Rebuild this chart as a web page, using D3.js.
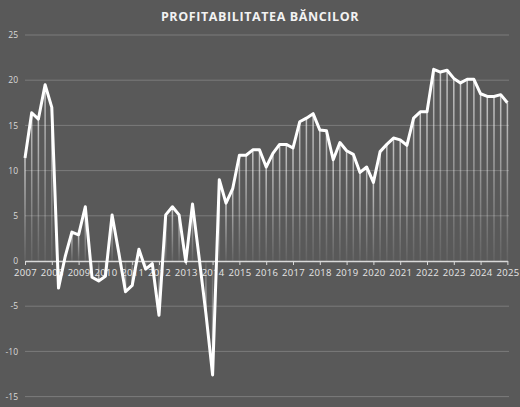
<!DOCTYPE html>
<html>
<head>
<meta charset="utf-8">
<script src="https://cdn.jsdelivr.net/npm/d3@7"></script>
<style>
  body { margin: 0; background: #595959; }
  svg { display: block; font-family: "Open Sans", "DejaVu Sans", sans-serif; }
</style>
</head>
<body>
<script>
// chart title
var title = "PROFITABILITATEA BĂNCILOR";

// quarterly values, 2007 Q1 .. 2025 Q1
var values = [
  11.4, 16.4, 15.7, 19.5, 17.0, -3.0, 0.5, 3.2, 2.9, 6.0, -1.8, -2.2,
  -1.7, 5.1, 0.9, -3.4, -2.7, 1.3, -0.9, -0.3, -6.0, 5.1, 6.0, 5.1,
  -0.1, 6.3, 0.3, -5.8, -12.6, 9.0, 6.4, 8.0, 11.7, 11.7, 12.3, 12.3,
  10.4, 11.9, 12.9, 12.9, 12.5, 15.4, 15.8, 16.3, 14.5, 14.4, 11.2, 13.1,
  12.2, 11.8, 9.8, 10.4, 8.7, 12.1, 12.9, 13.6, 13.4, 12.8, 15.8, 16.5,
  16.5, 21.2, 20.9, 21.1, 20.2, 19.7, 20.1, 20.1, 18.5, 18.2, 18.2, 18.4,
  17.5
];
var startYear = 2007;

// axis ticks
var yearTicks = d3.range(2007, 2026);
var yTicks = [-15, -10, -5, 0, 5, 10, 15, 20, 25];

var W = 520, H = 407;

var svg = d3.select("body").append("svg")
    .attr("width", W)
    .attr("height", H);

var data = values.map(function(v, i) { return { t: startYear + i / 4, v: v }; });

var x = d3.scaleLinear().domain([2007, 2025]).range([25, 507.4]);
var y = d3.scaleLinear().domain([-15, 25]).range([396.6, 35]);

// gradients for the drop lines
var defs = svg.append("defs");
var gUp = defs.append("linearGradient").attr("id", "dropUp")
    .attr("x1", 0).attr("y1", 0).attr("x2", 0).attr("y2", 1);
gUp.append("stop").attr("offset", "0%").attr("stop-color", "#fff").attr("stop-opacity", 0.65);
gUp.append("stop").attr("offset", "100%").attr("stop-color", "#fff").attr("stop-opacity", 0.06);
var gDown = defs.append("linearGradient").attr("id", "dropDown")
    .attr("x1", 0).attr("y1", 0).attr("x2", 0).attr("y2", 1);
gDown.append("stop").attr("offset", "0%").attr("stop-color", "#fff").attr("stop-opacity", 0.06);
gDown.append("stop").attr("offset", "100%").attr("stop-color", "#fff").attr("stop-opacity", 0.65);

// title
svg.append("text")
    .attr("x", W / 2)
    .attr("y", 21)
    .attr("text-anchor", "middle")
    .attr("fill", "#f2f2f2")
    .attr("font-size", 12.5)
    .attr("font-weight", "bold")
    .attr("letter-spacing", 0.6)
    .text(title);

// gridlines
svg.append("g").selectAll("line")
  .data(yTicks.filter(function(d) { return d !== 0; }))
  .enter().append("line")
    .attr("x1", 25).attr("x2", 509)
    .attr("y1", function(d) { return y(d); })
    .attr("y2", function(d) { return y(d); })
    .attr("stroke", "#7c7c7c")
    .attr("stroke-width", 1);

// y labels
var yAxis = svg.append("g")
    .attr("transform", "translate(18,0)")
    .call(d3.axisLeft(y).tickValues(yTicks).tickSize(0).tickFormat(function(d) { return d; }));
yAxis.select(".domain").remove();
yAxis.selectAll("text")
    .attr("fill", "#d9d9d9")
    .attr("font-size", 8.5)
    .attr("x", 0)
    .attr("font-family", "\"Open Sans\", sans-serif");

// drop lines
svg.append("g").selectAll("rect")
  .data(data)
  .enter().append("rect")
    .attr("x", function(d) { return x(d.t) - 0.75; })
    .attr("width", 1.5)
    .attr("y", function(d) { return d.v >= 0 ? y(d.v) : y(0); })
    .attr("height", function(d) { return Math.abs(y(d.v) - y(0)); })
    .attr("fill", function(d) { return d.v >= 0 ? "url(#dropUp)" : "url(#dropDown)"; });

// x axis at zero
var xAxis = svg.append("g")
    .attr("transform", "translate(0," + y(0) + ")")
    .call(d3.axisBottom(x).tickValues(yearTicks).tickSize(4).tickSizeOuter(0)
      .tickFormat(function(d) { return d; }));
xAxis.select(".domain").attr("stroke", "#d9d9d9").attr("stroke-width", 1.5);
xAxis.selectAll(".tick line").attr("stroke", "#d9d9d9").attr("stroke-width", 1);
xAxis.selectAll("text")
    .attr("fill", "#e6e6e6")
    .attr("font-size", 9.5)
    .attr("letter-spacing", 0.3)
    .attr("y", 8)
    .attr("font-family", "\"Open Sans\", sans-serif");

// the line
svg.append("path")
    .datum(data)
    .attr("fill", "none")
    .attr("stroke", "#ffffff")
    .attr("stroke-width", 3)
    .attr("stroke-linejoin", "round")
    .attr("d", d3.line()
      .x(function(d) { return x(d.t); })
      .y(function(d) { return y(d.v); }));
</script>
</body>
</html>
